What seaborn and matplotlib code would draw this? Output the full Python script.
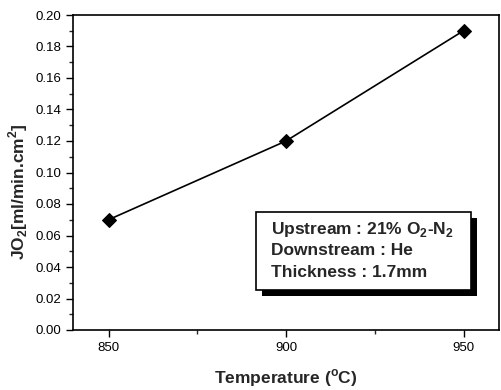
import matplotlib

matplotlib.use("Agg")

import matplotlib.pyplot as plt
import pandas as pd
import seaborn as sns
from matplotlib.ticker import FormatStrFormatter, MultipleLocator

temperature = [850, 900, 950]
flux = [0.070, 0.120, 0.190]
box_lines = [
    "Upstream : 21% O$_{\\mathregular{2}}$-N$_{\\mathregular{2}}$",
    "Downstream : He",
    "Thickness : 1.7mm",
]

sns.set_theme(style="ticks")
plt.rcParams["font.family"] = ["Liberation Sans", "DejaVu Sans"]

df = pd.DataFrame({"Temperature": temperature, "JO2": flux})

fig = plt.figure(figsize=(5.02, 3.9), dpi=100)
ax = fig.add_axes([73 / 502, 60 / 390, 426 / 502, 315 / 390])

sns.lineplot(data=df, x="Temperature", y="JO2", ax=ax, color="black", lw=1.2,
             marker="D", markersize=7, markeredgecolor="black", markerfacecolor="black")

ax.set_xlim(840, 960)
ax.set_ylim(0, 0.20)
ax.xaxis.set_major_locator(MultipleLocator(50))
ax.xaxis.set_minor_locator(MultipleLocator(25))
ax.yaxis.set_major_locator(MultipleLocator(0.02))
ax.yaxis.set_minor_locator(MultipleLocator(0.01))
ax.yaxis.set_major_formatter(FormatStrFormatter("%.2f"))
ax.tick_params(axis="both", which="major", direction="out", length=5, width=1, labelsize=9.5, colors="black")
ax.tick_params(axis="both", which="minor", direction="out", length=3, width=1)
for side in ["left", "bottom", "top", "right"]:
    ax.spines[side].set_linewidth(1.2)
    ax.spines[side].set_color("black")

ax.set_xlabel("Temperature ($^{\\mathregular{o}}$C)", fontsize=12.5, fontweight="bold", va="center")
ax.set_ylabel("JO$_{\\mathregular{2}}$[ml/min.cm$^{\\mathregular{2}}$]", fontsize=12.5, fontweight="bold", va="center")
ax.xaxis.set_label_coords(0.5, -0.152)
ax.yaxis.set_label_coords(-0.129, 0.438)

# annotation box with drop shadow (axes fraction coordinates)
bx0, bx1, by0, by1 = 0.4296, 0.934, 0.127, 0.3746
ax.add_patch(plt.Rectangle((bx0 + 0.014, by0 - 0.019), bx1 - bx0, by1 - by0, transform=ax.transAxes,
                           facecolor="black", edgecolor="none", zorder=4))
ax.add_patch(plt.Rectangle((bx0, by0), bx1 - bx0, by1 - by0, transform=ax.transAxes,
                           facecolor="white", edgecolor="black", lw=1.2, zorder=5))
for line, yy in zip(box_lines, [0.3206, 0.2508, 0.181]):
    ax.text(0.464, yy, line, transform=ax.transAxes, fontsize=12.5, fontweight="bold",
            va="center", ha="left", zorder=6)

fig.savefig("out.png", dpi=100)
